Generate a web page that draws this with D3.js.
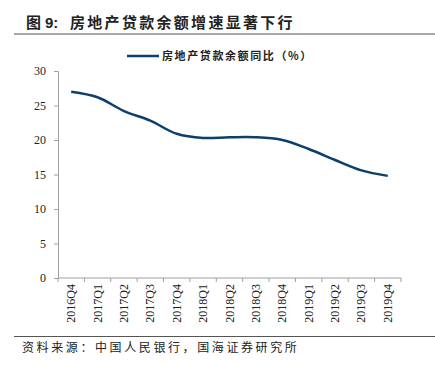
<!DOCTYPE html>
<html>
<head>
<meta charset="utf-8">
<script src="https://cdn.jsdelivr.net/npm/d3@7"></script>
<style>
  body { margin: 0; background: #fff; }
  svg { display: block; }
</style>
</head>
<body>
<div id="chart"></div>
<script>
// Real estate loan balance growth, YoY (%)
const quarters = ['2016Q4','2017Q1','2017Q2','2017Q3','2017Q4','2018Q1','2018Q2',
    '2018Q3','2018Q4','2019Q1','2019Q2','2019Q3','2019Q4'];
const growth = [27.0, 26.2, 24.2, 22.8, 20.9, 20.3, 20.4, 20.4, 20.0, 18.7, 17.1, 15.6, 14.8];
const yTicks = [0, 5, 10, 15, 20, 25, 30];

const W = 435, H = 366;
const margin = { left: 58, right: 34, top: 71, bottom: 88 };
const lineColor = '#0d3f6b';
const axisColor = '#a0a0a0';
const cjk = '"Noto Sans CJK SC", "Noto Sans", sans-serif';
const serif = '"Liberation Serif", "DejaVu Serif", serif';

const svg = d3.select('#chart').append('svg')
    .attr('width', W).attr('height', H);

// Title and rules
const title = svg.append('text')
    .attr('y', 28)
    .attr('font-family', cjk).attr('font-size', '15px').attr('font-weight', '700')
    .attr('fill', '#222');
title.append('tspan').attr('x', 26).text('图');
title.append('tspan').attr('x', 45).attr('font-family', '"Liberation Sans", Arial, sans-serif').text('9:');
title.append('tspan').attr('x', 70).attr('letter-spacing', '2.3px').text('房地产贷款余额增速显著下行');

svg.append('line')
    .attr('x1', 14).attr('x2', W).attr('y1', 34).attr('y2', 34)
    .attr('stroke', '#8c8c8c').attr('stroke-width', 1.5);
svg.append('line')
    .attr('x1', 14).attr('x2', W).attr('y1', 336.5).attr('y2', 336.5)
    .attr('stroke', '#555').attr('stroke-width', 1);
svg.append('text')
    .attr('x', 22).attr('y', 352)
    .attr('font-family', cjk).attr('font-size', '12px')
    .attr('letter-spacing', '2.6px')
    .attr('fill', '#222')
    .text('资料来源：中国人民银行，国海证券研究所');

const x = d3.scaleBand().domain(quarters)
    .range([margin.left, W - margin.right]).padding(0);
const y = d3.scaleLinear().domain([0, 30])
    .range([H - margin.bottom, margin.top]);

// Y axis
const yAxis = svg.append('g')
    .attr('transform', `translate(${margin.left},0)`)
    .call(d3.axisLeft(y).tickValues(yTicks).tickSize(4).tickPadding(8));
yAxis.select('.domain').attr('stroke', axisColor);
yAxis.selectAll('.tick line').attr('stroke', axisColor);
yAxis.selectAll('.tick text')
    .attr('font-family', serif).attr('font-size', '12px').attr('fill', '#222');

// X axis: tick marks on band edges
const xAxisG = svg.append('g')
    .attr('transform', `translate(0,${y(0)})`);
xAxisG.append('line')
    .attr('x1', margin.left).attr('x2', W - margin.right)
    .attr('stroke', axisColor);
const edges = quarters.map(q => x(q)).concat([x(quarters[quarters.length - 1]) + x.bandwidth()]);
xAxisG.selectAll('.edge').data(edges).enter().append('line')
    .attr('x1', d => d).attr('x2', d => d)
    .attr('y1', 0).attr('y2', 4)
    .attr('stroke', axisColor);
xAxisG.selectAll('.lbl').data(quarters).enter().append('text')
    .attr('transform', d => `translate(${x(d) + x.bandwidth() / 2 + 4},6) rotate(-90)`)
    .attr('text-anchor', 'end')
    .attr('font-family', serif).attr('font-size', '12px').attr('fill', '#222')
    .text(d => d);

// Line
const line = d3.line()
    .x((d, i) => x(quarters[i]) + x.bandwidth() / 2)
    .y(d => y(d))
    .curve(d3.curveCatmullRom.alpha(0.5));
svg.append('path')
    .datum(growth)
    .attr('d', line)
    .attr('fill', 'none')
    .attr('stroke', lineColor)
    .attr('stroke-width', 2.5);

// Legend
svg.append('line')
    .attr('x1', 127).attr('x2', 159).attr('y1', 56).attr('y2', 56)
    .attr('stroke', lineColor).attr('stroke-width', 2.5);
svg.append('text')
    .attr('x', 162).attr('y', 60)
    .attr('font-family', cjk).attr('font-size', '11px').attr('font-weight', '700')
    .attr('letter-spacing', '1.6px')
    .attr('fill', '#222')
    .text('房地产贷款余额同比（%）');
</script>
</body>
</html>
